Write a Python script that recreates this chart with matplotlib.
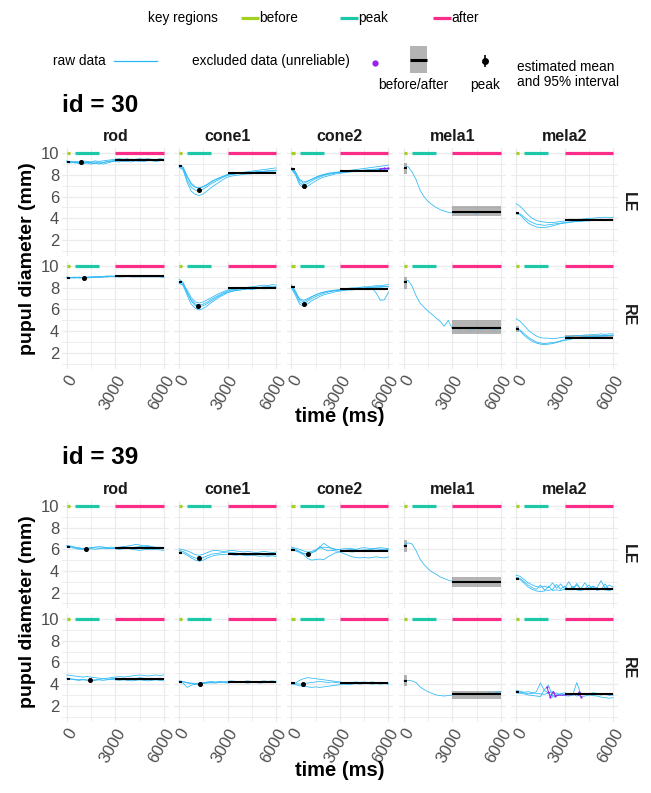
import matplotlib
matplotlib.use('Agg')
import matplotlib.pyplot as plt
from matplotlib.patches import Rectangle

plt.rcParams['font.family'] = ['Liberation Sans', 'DejaVu Sans']

W, H = 651, 793

# ---------------- data ----------------
time_ms = [0, 250, 500, 750, 1000, 1250, 1500, 1750, 2000, 2250, 2500, 2750, 3000,
           3250, 3500, 3750, 4000, 4250, 4500, 4750, 5000, 5250, 5500, 5750, 6000]
stimuli = ['rod', 'cone1', 'cone2', 'mela1', 'mela2']
eyes = ['LE', 'RE']
ids = [30, 39]

before_range = [0, 200]
peak_range = [500, 2000]
after_range = [3000, 6000]

# estimates: (mean, lower, upper); peak: (time, mean, lower, upper)
before_30_LE = [(9.2, 9.15, 9.25), (8.85, 8.75, 8.95), (8.55, 8.45, 8.65), (8.6, 8.1, 9.1), (4.45, 4.35, 4.55)]
peak_30_LE = [(900, 9.15, 9.1, 9.2), (1220, 6.65, 6.55, 6.75), (770, 6.95, 6.85, 7.05), None, None]
after_30_LE = [(9.35, 9.3, 9.4), (8.2, 8.15, 8.25), (8.4, 8.35, 8.45), (4.6, 4.2, 5.1), (3.8, 3.75, 3.85)]

before_30_RE = [(8.95, 8.9, 9.0), (8.5, 8.4, 8.6), (8.1, 8.0, 8.2), (8.5, 7.9, 9.0), (4.2, 3.9, 4.5)]
peak_30_RE = [(1050, 8.95, 8.9, 9.0), (1170, 6.35, 6.25, 6.45), (790, 6.5, 6.4, 6.6), None, None]
after_30_RE = [(9.05, 9.0, 9.1), (7.95, 7.9, 8.0), (7.85, 7.8, 7.9), (4.25, 3.75, 5.0), (3.4, 3.25, 3.6)]

before_39_LE = [(6.25, 6.2, 6.3), (5.7, 5.6, 5.8), (5.95, 5.85, 6.05), (6.3, 5.75, 6.9), (3.3, 3.2, 3.4)]
peak_39_LE = [(1175, 6.02, 5.97, 6.07), (1236, 5.2, 5.1, 5.3), (1030, 5.55, 5.45, 5.65), None, None]
after_39_LE = [(6.1, 6.05, 6.15), (5.55, 5.5, 5.6), (5.85, 5.8, 5.9), (3.0, 2.55, 3.4), (2.35, 2.3, 2.4)]

before_39_RE = [(4.5, 4.45, 4.55), (4.2, 4.15, 4.25), (4.1, 4.05, 4.15), (4.3, 3.85, 4.8), (3.25, 3.2, 3.3)]
peak_39_RE = [(1430, 4.36, 4.31, 4.41), (1315, 4.05, 4.0, 4.1), (740, 4.05, 4.0, 4.1), None, None]
after_39_RE = [(4.45, 4.35, 4.55), (4.2, 4.16, 4.24), (4.1, 4.06, 4.14), (3.05, 2.6, 3.4), (3.05, 3.0, 3.1)]

# raw traces
raw_30_LE_rod = [
    [9.25, 9.2, 9.15, 9.1, 9.2, 9.15, 9.1, 9.05, 9.2, 9.15, 9.25, 9.3, 9.35, 9.3, 9.4, 9.35, 9.45, 9.4, 9.35, 9.45, 9.4, 9.35, 9.4, 9.45, 9.4],
    [9.15, 9.1, 9.2, 9.05, 9.0, 9.1, 9.0, 9.1, 9.0, 9.15, 9.2, 9.25, 9.3, 9.35, 9.25, 9.3, 9.35, 9.3, 9.25, 9.3, 9.35, 9.3, 9.25, 9.3, 9.35],
    [9.2, 9.25, 9.1, 9.15, 9.1, 9.2, 9.15, 9.2, 9.1, 9.0, 9.1, 9.2, 9.25, 9.2, 9.3, 9.25, 9.2, 9.3, 9.35, 9.25, 9.3, 9.4, 9.3, 9.35, 9.3],
    [9.3, 9.2, 9.25, 9.2, 9.3, 9.25, 9.2, 9.3, 9.25, 9.3, 9.35, 9.4, 9.45, 9.5, 9.45, 9.5, 9.4, 9.45, 9.5, 9.45, 9.5, 9.45, 9.4, 9.5, 9.45],
]
raw_30_LE_cone1 = [
    [8.8, 8.55, 7.5, 6.85, 6.6, 6.55, 6.7, 6.95, 7.2, 7.4, 7.6, 7.8, 7.95, 8.05, 8.1, 8.15, 8.2, 8.2, 8.25, 8.3, 8.3, 8.35, 8.4, 8.4, 8.45],
    [8.9, 8.7, 7.8, 7.1, 6.85, 6.8, 6.95, 7.15, 7.4, 7.6, 7.75, 7.9, 8.05, 8.1, 8.15, 8.2, 8.25, 8.3, 8.35, 8.4, 8.45, 8.5, 8.55, 8.6, 8.65],
    [8.7, 8.45, 7.3, 6.5, 6.2, 6.1, 6.25, 6.55, 6.85, 7.1, 7.35, 7.6, 7.8, 7.9, 7.95, 8.0, 8.05, 8.1, 8.1, 8.15, 8.15, 8.2, 8.2, 8.25, 8.25],
    [8.85, 8.7, 7.9, 7.25, 6.9, 6.8, 6.9, 7.1, 7.35, 7.55, 7.7, 7.85, 8.0, 8.05, 8.1, 8.15, 8.15, 8.2, 8.25, 8.25, 8.3, 8.3, 8.35, 8.35, 8.4],
]
raw_30_LE_cone2 = [
    [8.55, 8.1, 7.3, 7.0, 7.2, 7.45, 7.65, 7.8, 7.95, 8.05, 8.1, 8.2, 8.25, 8.3, 8.3, 8.35, 8.4, 8.4, 8.45, 8.5, 8.5, 8.55, 8.6, 8.6, 8.65],
    [8.7, 8.3, 7.5, 7.2, 7.4, 7.6, 7.8, 7.95, 8.05, 8.15, 8.2, 8.25, 8.3, 8.35, 8.4, 8.45, 8.5, 8.55, 8.6, 8.65, 8.7, 8.75, 8.8, 8.85, 8.9],
    [8.5, 8.0, 7.1, 6.8, 6.95, 7.2, 7.45, 7.65, 7.8, 7.9, 8.0, 8.1, 8.15, 8.2, 8.25, 8.3, 8.3, 8.35, 8.35, 8.4, 8.4, 8.45, 8.45, 8.5, 8.5],
    [8.6, 8.2, 7.6, 7.35, 7.45, 7.6, 7.75, 7.9, 8.0, 8.1, 8.15, 8.2, 8.25, 8.25, 8.3, 8.3, 8.35, 8.4, 8.4, 8.45, 8.45, 8.5, 8.5, 8.55, 8.6],
]
raw_30_LE_mela1 = [
    [8.6, 8.8, 8.3, 7.6, 6.6, 6.0, 5.55, 5.25, 5.0, 4.8, 4.65, 4.55, 4.5, 4.55, 4.5, 4.6, 4.5, 4.55, 4.45, 4.55, 4.5, 4.6, 4.5, 4.55, 4.5],
]
raw_30_LE_mela2 = [
    [5.35, 5.1, 4.7, 4.3, 4.0, 3.8, 3.7, 3.65, 3.6, 3.6, 3.65, 3.7, 3.75, 3.8, 3.85, 3.9, 3.9, 3.95, 4.0, 4.0, 4.05, 4.05, 4.1, 4.05, 4.1],
    [4.5, 4.4, 4.1, 3.8, 3.6, 3.45, 3.4, 3.35, 3.4, 3.45, 3.5, 3.55, 3.6, 3.65, 3.7, 3.7, 3.75, 3.8, 3.8, 3.85, 3.85, 3.9, 3.85, 3.9, 3.9],
    [4.4, 4.3, 3.9, 3.55, 3.35, 3.2, 3.15, 3.15, 3.2, 3.3, 3.4, 3.5, 3.55, 3.6, 3.65, 3.7, 3.7, 3.75, 3.75, 3.8, 3.8, 3.8, 3.85, 3.85, 3.8],
]
raw_30_RE_rod = [
    [8.95, 8.95, 9.0, 8.9, 8.95, 9.0, 9.0, 9.05, 9.0, 9.05, 9.1, 9.05, 9.1, 9.15, 9.1, 9.05, 9.1, 9.05, 9.0, 9.05, 9.1, 9.05, 9.0, 9.05, 9.0],
    [8.9, 8.95, 8.9, 8.95, 8.9, 8.95, 9.0, 8.95, 9.05, 9.0, 9.05, 9.1, 9.05, 9.0, 9.05, 9.1, 9.0, 9.05, 9.1, 9.05, 9.0, 9.05, 9.1, 9.0, 8.95],
    [9.0, 8.9, 8.95, 9.0, 8.95, 8.9, 8.95, 9.0, 8.95, 9.0, 9.0, 9.05, 9.0, 9.05, 9.0, 9.1, 9.05, 9.0, 9.05, 9.0, 9.05, 9.0, 9.05, 9.1, 9.05],
]
raw_30_RE_cone1 = [
    [8.8, 8.5, 7.6, 6.9, 6.5, 6.4, 6.5, 6.7, 6.95, 7.15, 7.35, 7.55, 7.7, 7.8, 7.85, 7.9, 7.95, 8.0, 8.0, 8.05, 8.05, 8.1, 8.1, 8.15, 8.1],
    [8.5, 8.2, 7.3, 6.5, 6.1, 5.95, 6.1, 6.35, 6.65, 6.9, 7.15, 7.35, 7.55, 7.65, 7.75, 7.8, 7.85, 7.9, 7.9, 7.95, 7.95, 8.0, 8.0, 8.0, 8.05],
    [8.4, 8.3, 7.8, 7.1, 6.7, 6.6, 6.7, 6.9, 7.1, 7.3, 7.5, 7.65, 7.8, 7.85, 7.9, 7.95, 8.0, 8.05, 8.1, 8.15, 8.2, 8.25, 8.2, 8.3, 8.25],
    [8.6, 8.4, 7.5, 6.8, 6.35, 6.25, 6.35, 6.55, 6.8, 7.05, 7.25, 7.45, 7.6, 7.7, 7.75, 7.8, 7.85, 7.9, 7.85, 7.9, 7.95, 7.9, 7.95, 8.0, 7.95],
]
raw_30_RE_cone2 = [
    [8.1, 7.5, 6.7, 6.5, 6.75, 7.0, 7.2, 7.35, 7.5, 7.6, 7.7, 7.75, 7.8, 7.85, 7.9, 7.95, 7.95, 8.0, 8.0, 8.05, 8.05, 8.1, 8.1, 8.15, 8.1],
    [8.3, 7.7, 6.9, 6.7, 6.9, 7.15, 7.35, 7.5, 7.6, 7.7, 7.75, 7.8, 7.85, 7.9, 7.95, 8.0, 8.0, 8.05, 8.1, 8.1, 8.15, 8.2, 8.2, 8.25, 8.3],
    [8.0, 7.3, 6.5, 6.3, 6.5, 6.8, 7.0, 7.2, 7.35, 7.45, 7.55, 7.65, 7.7, 7.75, 7.8, 7.8, 7.85, 7.85, 7.9, 7.9, 7.95, 7.5, 6.85, 6.9, 7.6],
    [8.2, 7.6, 7.0, 6.85, 7.0, 7.2, 7.35, 7.5, 7.6, 7.65, 7.7, 7.75, 7.8, 7.8, 7.85, 7.9, 7.9, 7.95, 7.95, 8.0, 8.0, 8.05, 8.05, 8.1, 8.1],
]
raw_30_RE_mela1 = [
    [8.55, 8.7, 8.2, 7.3, 6.6, 6.2, 5.85, 5.55, 5.2, 4.9, 4.45, 5.0, 4.2, 4.25, 4.2, 4.25, 4.2, 4.2, 4.25, 4.2, 4.2, 4.25, 4.2, 4.2, 4.25],
]
raw_30_RE_mela2 = [
    [5.15, 4.9, 4.5, 4.1, 3.8, 3.55, 3.4, 3.35, 3.35, 3.3, 3.35, 3.4, 3.45, 3.5, 3.55, 3.6, 3.6, 3.65, 3.65, 3.7, 3.7, 3.75, 3.7, 3.75, 3.75],
    [4.2, 4.0, 3.6, 3.3, 3.05, 2.9, 2.8, 2.75, 2.8, 2.85, 2.95, 3.05, 3.15, 3.2, 3.3, 3.35, 3.4, 3.45, 3.45, 3.5, 3.5, 3.55, 3.55, 3.6, 3.6],
    [4.3, 4.1, 3.75, 3.45, 3.2, 3.0, 2.9, 2.85, 2.9, 2.95, 3.0, 3.1, 3.2, 3.3, 3.35, 3.4, 3.45, 3.5, 3.5, 3.55, 3.55, 3.6, 3.6, 3.6, 3.65],
]
raw_39_LE_rod = [
    [6.3, 6.25, 6.15, 6.05, 6.1, 6.05, 6.1, 6.15, 6.1, 6.15, 6.1, 6.05, 6.1, 6.15, 6.2, 6.3, 6.35, 6.45, 6.4, 6.3, 6.25, 6.2, 6.15, 6.2, 6.15],
    [6.2, 6.15, 6.1, 6.0, 6.0, 5.95, 6.05, 6.0, 6.05, 6.1, 6.05, 6.1, 6.05, 6.0, 6.05, 6.1, 6.0, 5.95, 5.9, 5.95, 6.0, 5.95, 6.0, 5.95, 5.9],
    [6.35, 6.3, 6.2, 6.15, 6.05, 6.1, 6.15, 6.2, 6.25, 6.2, 6.15, 6.2, 6.15, 6.2, 6.25, 6.2, 6.15, 6.2, 6.25, 6.3, 6.35, 6.25, 6.2, 6.15, 6.1],
]
raw_39_LE_cone1 = [
    [5.9, 5.8, 5.6, 5.35, 5.2, 5.1, 5.25, 5.4, 5.55, 5.6, 5.65, 5.7, 5.75, 5.7, 5.65, 5.6, 5.55, 5.6, 5.55, 5.5, 5.55, 5.5, 5.45, 5.5, 5.5],
    [5.7, 5.65, 5.45, 5.2, 5.0, 4.9, 5.0, 5.2, 5.35, 5.45, 5.5, 5.5, 5.55, 5.5, 5.45, 5.5, 5.45, 5.4, 5.45, 5.4, 5.35, 5.4, 5.35, 5.4, 5.35],
    [6.05, 5.95, 5.85, 5.7, 5.5, 5.45, 5.55, 5.7, 5.85, 5.9, 5.85, 5.8, 5.85, 5.9, 5.85, 5.8, 5.75, 5.8, 5.75, 5.7, 5.75, 5.8, 5.75, 5.7, 5.75],
]
raw_39_LE_cone2 = [
    [6.1, 6.0, 5.8, 5.6, 5.5, 5.65, 5.9, 6.2, 6.55, 6.3, 6.05, 5.95, 6.0, 6.05, 6.1, 6.05, 6.0, 6.1, 6.15, 6.1, 6.05, 6.1, 6.15, 6.1, 6.05],
    [5.9, 5.85, 5.7, 5.5, 5.15, 5.0, 5.05, 5.1, 5.05, 5.3, 5.5, 5.7, 5.75, 5.6, 5.45, 5.3, 5.25, 5.2, 5.25, 5.2, 5.25, 5.3, 5.25, 5.2, 5.3],
    [6.2, 6.1, 6.0, 5.85, 5.75, 5.8, 5.95, 6.1, 6.2, 6.15, 6.1, 6.0, 5.95, 5.9, 5.95, 6.0, 5.95, 5.9, 5.95, 5.9, 5.85, 5.9, 5.95, 5.9, 5.85],
    [5.95, 5.9, 5.75, 5.6, 5.6, 5.7, 5.8, 6.25, 6.0, 5.85, 5.9, 5.85, 5.8, 5.85, 5.8, 5.75, 5.8, 5.85, 5.9, 5.95, 6.0, 6.05, 6.0, 5.95, 6.0],
]
raw_39_LE_mela1 = [
    [6.35, 6.6, 6.5, 5.9, 5.1, 4.6, 4.2, 3.9, 3.7, 3.45, 3.3, 3.15, 3.05, 3.0, 3.05, 2.95, 3.0, 3.05, 3.0, 2.95, 3.0, 3.05, 3.0, 2.95, 3.0],
]
raw_39_LE_mela2 = [
    [3.6, 3.5, 3.2, 2.9, 2.7, 2.55, 2.5, 2.6, 2.45, 2.9, 2.4, 2.8, 2.35, 3.0, 2.4, 2.7, 2.35, 2.9, 2.4, 2.6, 2.45, 3.1, 2.4, 2.7, 2.5],
    [3.4, 3.3, 3.0, 2.7, 2.45, 2.3, 2.7, 2.25, 2.2, 2.3, 2.75, 2.3, 2.6, 2.3, 2.25, 2.85, 2.3, 2.35, 2.7, 2.3, 2.35, 2.25, 2.8, 2.3, 2.35],
    [3.3, 3.2, 2.85, 2.5, 2.3, 2.15, 2.1, 2.15, 2.6, 2.2, 2.25, 2.2, 2.3, 2.25, 2.6, 2.25, 2.2, 2.3, 2.25, 2.55, 2.2, 2.3, 2.25, 2.2, 2.3],
]
raw_39_RE_rod = [
    [4.85, 4.8, 4.75, 4.7, 4.65, 4.7, 4.65, 4.6, 4.55, 4.5, 4.55, 4.6, 4.65, 4.7, 4.65, 4.7, 4.75, 4.8, 4.85, 4.8, 4.75, 4.8, 4.85, 4.8, 4.85],
    [4.5, 4.45, 4.4, 4.35, 4.4, 4.35, 4.3, 4.35, 4.4, 4.35, 4.4, 4.45, 4.4, 4.35, 4.4, 4.35, 4.3, 4.35, 4.4, 4.35, 4.3, 4.35, 4.4, 4.35, 4.3],
    [4.55, 4.5, 4.45, 4.4, 4.45, 4.4, 4.35, 4.4, 4.45, 4.5, 4.45, 4.5, 4.55, 4.5, 4.45, 4.5, 4.55, 4.5, 4.6, 4.55, 4.5, 4.55, 4.5, 4.55, 4.5],
]
raw_39_RE_cone1 = [
    [4.3, 4.25, 4.15, 4.1, 4.05, 4.1, 4.15, 4.2, 4.25, 4.2, 4.25, 4.2, 4.25, 4.3, 4.25, 4.2, 4.25, 4.3, 4.25, 4.2, 4.25, 4.3, 4.25, 4.3, 4.25],
    [4.15, 4.1, 3.7, 3.9, 4.0, 3.95, 4.05, 4.1, 4.15, 4.1, 4.15, 4.2, 4.15, 4.2, 4.15, 4.2, 4.15, 4.1, 4.15, 4.2, 4.15, 4.2, 4.15, 4.2, 4.15],
    [4.25, 4.2, 4.1, 4.05, 4.0, 4.05, 4.1, 4.15, 4.1, 4.15, 4.2, 4.15, 4.1, 4.15, 4.2, 4.25, 4.2, 4.15, 4.2, 4.15, 4.1, 4.15, 4.2, 4.15, 4.2],
]
raw_39_RE_cone2 = [
    [4.15, 4.1, 4.35, 4.5, 4.6, 4.55, 4.5, 4.45, 4.4, 4.35, 4.3, 4.25, 4.2, 4.15, 4.1, 4.15, 4.1, 4.05, 4.1, 4.05, 4.0, 4.05, 4.0, 4.05, 4.0],
    [4.0, 3.95, 3.85, 3.8, 3.75, 3.7, 3.75, 3.7, 3.75, 3.8, 3.85, 3.9, 3.95, 4.0, 3.95, 4.0, 4.05, 4.0, 4.05, 4.1, 4.05, 4.1, 4.05, 4.1, 4.05],
    [4.1, 4.05, 4.0, 4.05, 4.1, 4.15, 4.2, 4.25, 4.2, 4.15, 4.2, 4.15, 4.1, 4.15, 4.1, 4.15, 4.2, 4.15, 4.2, 4.15, 4.2, 4.15, 4.1, 4.15, 4.1],
]
raw_39_RE_mela1 = [
    [4.3, 4.35, 4.3, 4.15, 3.75, 3.5, 3.3, 3.15, 3.0, 2.95, 2.9, 2.95, 3.0, 3.1, 3.05, 3.15, 3.1, 3.0, 3.1, 3.15, 3.1, 3.2, 3.15, 3.25, 3.3],
]
raw_39_RE_mela2 = [
    [3.3, 3.25, 3.2, 3.1, 3.15, 3.3, 4.1, 3.4, 3.2, 3.3, 3.0, 3.1, 3.05, 3.15, 3.0, 4.15, 3.1, 3.05, 3.0, 3.1, 3.05, 3.0, 3.1, 2.95, 3.0],
    [3.2, 3.15, 3.1, 3.0, 2.95, 2.9, 2.85, 3.5, 3.9, 2.9, 3.2, 3.0, 2.95, 2.9, 3.0, 3.05, 2.85, 2.9, 3.0, 2.95, 2.9, 2.8, 2.75, 2.7, 2.75],
    [3.4, 3.35, 3.25, 3.3, 3.2, 3.15, 3.1, 3.05, 3.2, 2.8, 2.9, 3.1, 3.2, 3.05, 3.1, 2.9, 3.0, 3.15, 3.1, 3.2, 3.15, 3.1, 3.05, 3.1, 3.05],
]

# excluded (unreliable) samples
excl_30_LE_cone2_t = [5500, 5750, 6000]
excl_30_LE_cone2_v = [8.55, 8.6, 8.6]
excl_39_RE_mela2_t = [1900, 2000, 2100, 2300, 2400, 3800, 3900, 4000]
excl_39_RE_mela2_v = [3.7, 3.3, 2.8, 3.3, 2.95, 3.05, 3.25, 2.85]

# ---------------- lookups ----------------
raw = {
    (30, 'LE'): [raw_30_LE_rod, raw_30_LE_cone1, raw_30_LE_cone2, raw_30_LE_mela1, raw_30_LE_mela2],
    (30, 'RE'): [raw_30_RE_rod, raw_30_RE_cone1, raw_30_RE_cone2, raw_30_RE_mela1, raw_30_RE_mela2],
    (39, 'LE'): [raw_39_LE_rod, raw_39_LE_cone1, raw_39_LE_cone2, raw_39_LE_mela1, raw_39_LE_mela2],
    (39, 'RE'): [raw_39_RE_rod, raw_39_RE_cone1, raw_39_RE_cone2, raw_39_RE_mela1, raw_39_RE_mela2],
}
before_est = {(30, 'LE'): before_30_LE, (30, 'RE'): before_30_RE, (39, 'LE'): before_39_LE, (39, 'RE'): before_39_RE}
peak_est = {(30, 'LE'): peak_30_LE, (30, 'RE'): peak_30_RE, (39, 'LE'): peak_39_LE, (39, 'RE'): peak_39_RE}
after_est = {(30, 'LE'): after_30_LE, (30, 'RE'): after_30_RE, (39, 'LE'): after_39_LE, (39, 'RE'): after_39_RE}
excluded = {
    (30, 'LE', 'cone2'): (excl_30_LE_cone2_t, excl_30_LE_cone2_v),
    (39, 'RE', 'mela2'): (excl_39_RE_mela2_t, excl_39_RE_mela2_v),
}

# ---------------- style ----------------
c_before = '#a3cf1f'
c_peak = '#1dc7a8'
c_after = '#fb2d88'
c_raw = '#28b8f6'
c_excl = '#9b1ff0'
c_ci = '#8c8c8c'
c_grid = '#ebebeb'
c_tick = '#4d4d4d'

fig = plt.figure(figsize=(W / 100, H / 100), dpi=100)


def px_axes(left, top, w, h):
    return fig.add_axes([left / W, 1 - (top + h) / H, w / W, h / H])


panel_w = 106.7
panel_h = 107.2
col_left = [61.9 + k * 112.35 for k in range(5)]
row_top = {30: [148.4, 261.3], 39: [501.1, 614.3]}


def draw_panel(ax, traces, bef, pk, aft, excl, xlab, ylab):
    ax.set_xlim(-300, 6300)
    ax.set_ylim(0.55, 10.45)
    ax.set_xticks([0, 3000, 6000])
    ax.set_xticks([1500, 4500], minor=True)
    ax.set_yticks([2, 4, 6, 8, 10])
    ax.set_yticks([1, 3, 5, 7, 9], minor=True)
    ax.grid(which='major', color=c_grid, lw=0.9)
    ax.grid(which='minor', color=c_grid, lw=0.6)
    ax.set_axisbelow(True)
    for s in ax.spines.values():
        s.set_visible(False)
    ax.tick_params(which='both', length=0, labelsize=12, labelcolor=c_tick)
    if xlab:
        ax.set_xticklabels(['0', '3000', '6000'], rotation=60, ha='right', va='top',
                           rotation_mode='anchor')
        ax.tick_params(axis='x', pad=3)
    else:
        ax.set_xticklabels([])
    if ylab:
        ax.tick_params(axis='y', pad=2)
    else:
        ax.set_yticklabels([])

    # key regions
    ax.plot(before_range, [10, 10], color=c_before, lw=2.3, solid_capstyle='butt')
    ax.plot(peak_range, [10, 10], color=c_peak, lw=2.3, solid_capstyle='butt')
    ax.plot(after_range, [10, 10], color=c_after, lw=2.3, solid_capstyle='butt')

    for tr in traces:
        ax.plot(time_ms, tr, color=c_raw, lw=0.55)
    if excl is not None:
        ax.plot(excl[0], excl[1], color=c_excl, lw=0.7, marker='o', ms=1.6, mew=0)

    m, lo, hi = bef
    ax.fill_between(before_range, lo, hi, color=c_ci, alpha=0.65, lw=0)
    ax.plot(before_range, [m, m], color='black', lw=1.5, solid_capstyle='butt')
    m, lo, hi = aft
    ax.fill_between(after_range, lo, hi, color=c_ci, alpha=0.65, lw=0)
    ax.plot(after_range, [m, m], color='black', lw=1.5, solid_capstyle='butt')
    if pk is not None:
        t, m, lo, hi = pk
        ax.errorbar([t], [m], yerr=[[m - lo], [hi - m]], fmt='o', color='black',
                    ms=2.6, elinewidth=0.9, capsize=0)


for pid in ids:
    for r, eye in enumerate(eyes):
        for c, stim in enumerate(stimuli):
            ax = px_axes(col_left[c], row_top[pid][r], panel_w, panel_h)
            draw_panel(ax, raw[(pid, eye)][c], before_est[(pid, eye)][c],
                       peak_est[(pid, eye)][c], after_est[(pid, eye)][c],
                       excluded.get((pid, eye, stim)), r == 1, c == 0)

# overlay in pixel coordinates for titles, strips and legend
ov = fig.add_axes([0, 0, 1, 1])
ov.set_xlim(0, W)
ov.set_ylim(H, 0)
ov.set_axis_off()
ov.patch.set_alpha(0)

title_y = {30: 105, 39: 457.5}
strip_y = {30: 136.7, 39: 489}
xtitle_y = {30: 417, 39: 771}
for pid in ids:
    ov.text(62.5, title_y[pid], 'id = %d' % pid, fontsize=17.5, fontweight='bold',
            ha='left', va='center', color='black')
    for c, stim in enumerate(stimuli):
        ov.text(col_left[c] + panel_w / 2, strip_y[pid], stim, fontsize=11.5,
                fontweight='bold', ha='center', va='center', color='#1a1a1a')
    for r, eye in enumerate(eyes):
        ov.text(628, row_top[pid][r] + panel_h / 2, eye, fontsize=11.5, fontweight='bold',
                rotation=-90, ha='center', va='center', color='#1a1a1a')
    ov.text((col_left[0] + col_left[4] + panel_w) / 2, xtitle_y[pid], 'time (ms)',
            fontsize=14.5, fontweight='bold', ha='center', va='center')
    ov.text(27.5, (row_top[pid][0] + row_top[pid][1] + panel_h) / 2, 'pupul diameter (mm)',
            fontsize=14, fontweight='bold', rotation=90, ha='center', va='center')

# legend row 1: key regions
lfs = 9.8
ov.text(148, 18, 'key regions', fontsize=lfs, ha='left', va='center')
for x0, col, lab in [(241, c_before, 'before'), (340, c_peak, 'peak'), (433, c_after, 'after')]:
    ov.plot([x0, x0 + 18], [18, 18], color=col, lw=2.3, solid_capstyle='butt')
    ov.text(x0 + 18.5, 18, lab, fontsize=lfs, ha='left', va='center')

# legend row 2
ov.text(53, 61, 'raw data', fontsize=lfs, ha='left', va='center')
ov.plot([114, 157], [61, 61], color=c_raw, lw=0.9)
ov.text(192, 61, 'excluded data (unreliable)', fontsize=lfs, ha='left', va='center')
ov.plot([375], [63], 'o', color=c_excl, ms=4.5, mew=0)
ov.add_patch(Rectangle((410, 46), 17, 27, color=c_ci, alpha=0.65, lw=0))
ov.plot([410, 427], [59.5, 59.5], color='black', lw=2.2, solid_capstyle='butt')
ov.text(413.5, 85, 'before/after', fontsize=lfs, ha='center', va='center')
ov.errorbar([485], [61], yerr=[[6], [6]], fmt='o', color='black', ms=4, elinewidth=1.2, capsize=0)
ov.text(485, 85, 'peak', fontsize=lfs, ha='center', va='center')
ov.text(517, 67, 'estimated mean', fontsize=lfs, ha='left', va='center')
ov.text(517, 81.5, 'and 95% interval', fontsize=lfs, ha='left', va='center')

fig.savefig('out.png', dpi=100)
